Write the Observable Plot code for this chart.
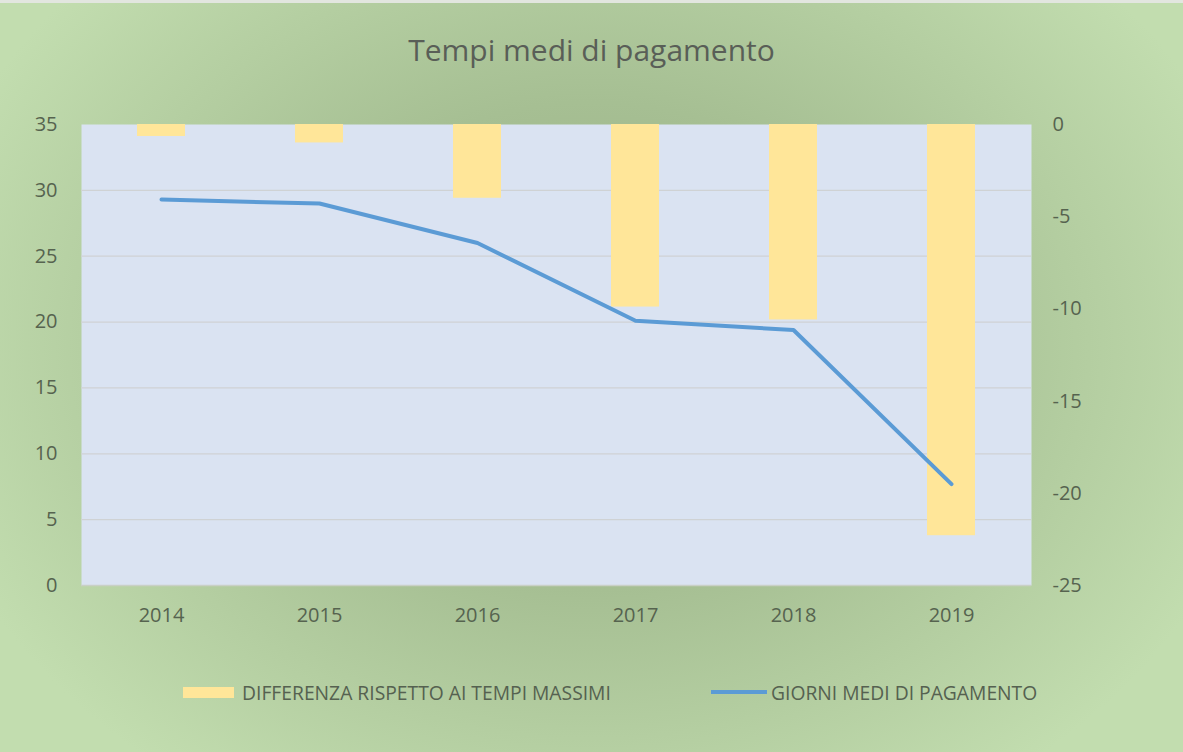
<!DOCTYPE html>
<html><head><meta charset="utf-8">
<script src="https://cdn.jsdelivr.net/npm/d3@7"></script>
<script src="https://cdn.jsdelivr.net/npm/@observablehq/plot@0.6"></script>
<style>
body{margin:0;}
#chart{width:1183px;height:752px;position:relative;overflow:hidden;
  background: radial-gradient(ellipse 58% 72% at 50% 46%, #96ac83 0%, #a6bf93 45%, #c2ddaf 100%);
  font-family:"Open Sans", sans-serif;}
#topline{position:absolute;top:0;left:0;width:100%;height:3px;background:#e2e6df;}
#title{position:absolute;top:31px;left:0;width:100%;text-align:center;font-size:30px;line-height:38px;color:#595e57;}
#plot{position:absolute;top:104px;left:0;}
#legend{position:absolute;top:680px;left:0;width:100%;height:24px;font-size:19.3px;color:#556150;}
.item{position:absolute;top:0;display:flex;align-items:center;height:24px;}
.sw1{width:51px;height:11px;background:#ffe699;margin-right:8px;}
.sw2{width:56px;height:4px;background:#5b9bd5;margin-right:4px;}
</style></head>
<body>
<div id="chart">
  <div id="topline"></div>
  <div id="title">Tempi medi di pagamento</div>
  <div id="plot"></div>
  <div id="legend">
    <div class="item" style="left:183px"><div class="sw1"></div><span>DIFFERENZA RISPETTO AI TEMPI MASSIMI</span></div>
    <div class="item" style="left:711px"><div class="sw2"></div><span>GIORNI MEDI DI PAGAMENTO</span></div>
  </div>
</div>
<script>
const years = ["2014", "2015", "2016", "2017", "2018", "2019"];
const giorniMedi = [29.3, 29.0, 26.0, 20.1, 19.4, 7.7];
const differenza = [-0.65, -1.0, -4.0, -9.9, -10.6, -22.3];
const leftTicks = [0, 5, 10, 15, 20, 25, 30, 35];
const rightTicks = [0, -5, -10, -15, -20, -25];

// map right-axis values (0..-25) onto the left scale (35..0)
const toLeft = v => 35 + v * 35 / 25;
const data = years.map((y, i) => ({year: y, giorni: giorniMedi[i], diff: differenza[i], diffL: toLeft(differenza[i])}));
const tickColor = "#56634f";

const chart = Plot.plot({
  width: 1183,
  height: 526,
  marginLeft: 81,
  marginRight: 152,
  marginTop: 20,
  marginBottom: 45,
  style: {background: "transparent", fontFamily: "'Open Sans', sans-serif", fontSize: "20px", color: tickColor, overflow: "visible"},
  x: {type: "band", domain: years, padding: 0, label: null},
  y: {domain: [0, 35], label: null},
  marks: [
    Plot.frame({fill: "#dae3f2", stroke: null}),
    Plot.ruleY([5, 10, 15, 20, 25, 30], {stroke: "#cfd2d4", strokeWidth: 1.2}),
    Plot.ruleY([0], {stroke: "#c9d0c6", strokeWidth: 1.5}),
    Plot.barY(data, {x: "year", y1: 35, y2: "diffL", fill: "#ffe699", insetLeft: 55, insetRight: 55}),
    Plot.lineY(data, {x: "year", y: "giorni", stroke: "#5b9bd5", strokeWidth: 4, strokeLinejoin: "round", strokeLinecap: "round"}),
    Plot.axisY(leftTicks, {anchor: "left", tickSize: 0, tickPadding: 24, fill: tickColor, label: null}),
    Plot.axisY(rightTicks.map(toLeft), {anchor: "right", tickSize: 0, tickPadding: 21, fill: tickColor, label: null,
      tickFormat: d => String(Math.round((d - 35) * 25 / 35))}),
    Plot.axisX(years, {anchor: "bottom", tickSize: 0, tickPadding: 22, fill: tickColor, label: null})
  ]
});
document.getElementById("plot").appendChild(chart);
</script>
</body></html>
